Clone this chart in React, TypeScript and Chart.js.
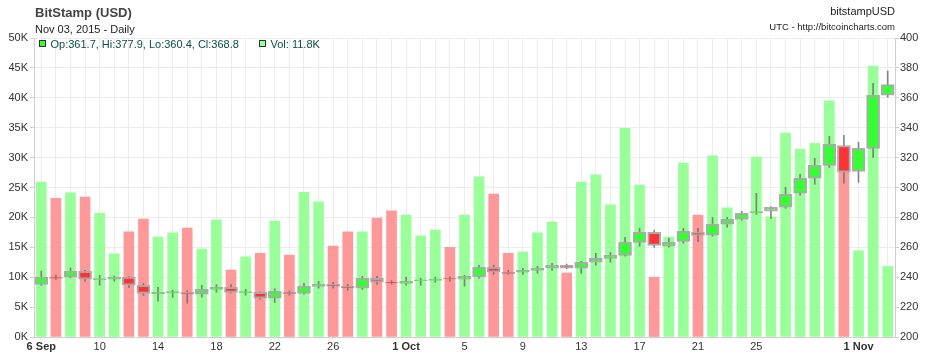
import React, { useEffect, useRef } from 'react';
import { Chart, registerables } from 'chart.js';

Chart.register(...registerables);

const FONT = '"Liberation Sans", Arial, Helvetica, sans-serif';

const dates = [
  '2015-09-06', '2015-09-07', '2015-09-08', '2015-09-09', '2015-09-10', '2015-09-11', '2015-09-12',
  '2015-09-13', '2015-09-14', '2015-09-15', '2015-09-16', '2015-09-17', '2015-09-18', '2015-09-19',
  '2015-09-20', '2015-09-21', '2015-09-22', '2015-09-23', '2015-09-24', '2015-09-25', '2015-09-26',
  '2015-09-27', '2015-09-28', '2015-09-29', '2015-09-30', '2015-10-01', '2015-10-02', '2015-10-03',
  '2015-10-04', '2015-10-05', '2015-10-06', '2015-10-07', '2015-10-08', '2015-10-09', '2015-10-10',
  '2015-10-11', '2015-10-12', '2015-10-13', '2015-10-14', '2015-10-15', '2015-10-16', '2015-10-17',
  '2015-10-18', '2015-10-19', '2015-10-20', '2015-10-21', '2015-10-22', '2015-10-23', '2015-10-24',
  '2015-10-25', '2015-10-26', '2015-10-27', '2015-10-28', '2015-10-29', '2015-10-30', '2015-10-31',
  '2015-11-01', '2015-11-02', '2015-11-03',
];

// Volume in thousands (K)
const volumeK = [
  25.9, 23.2, 24.1, 23.4, 20.7, 13.9, 17.6, 19.7, 16.7, 17.4, 18.2, 14.7, 19.6, 11.2,
  13.4, 14.0, 19.4, 13.7, 24.2, 22.6, 15.2, 17.6, 17.6, 19.9, 21.1, 20.4, 16.9, 17.9,
  15.0, 20.4, 26.8, 23.9, 14.0, 14.2, 17.4, 19.2, 10.7, 25.9, 27.1, 22.1, 34.9, 25.4,
  10.0, 16.7, 29.1, 20.4, 30.3, 21.6, 19.6, 30.1, 20.1, 34.1, 31.4, 32.4, 39.5, 31.0,
  14.4, 45.3, 11.8,
];

const openP = [
  235.2, 240.0, 240.0, 244.0, 238.2, 238.6, 240.0, 234.6, 229.0, 229.5, 229.9, 228.6, 231.9, 233.2,
  229.6, 229.9, 225.9, 229.9, 229.2, 233.9, 235.3, 233.9, 232.6, 239.3, 236.8, 235.9, 237.6, 237.9,
  239.3, 238.6, 240.3, 246.6, 243.2, 243.3, 244.6, 246.0, 248.0, 246.0, 250.0, 252.6, 254.6, 263.3,
  270.0, 260.7, 264.0, 270.0, 268.1, 275.4, 278.7, 283.0, 284.1, 286.8, 296.2, 306.2, 314.8, 328.0,
  310.8, 326.2, 361.7,
];

const highP = [
  244.1, 241.5, 246.2, 244.6, 241.3, 240.8, 240.4, 235.9, 233.2, 231.4, 231.0, 234.6, 235.0, 235.0,
  231.9, 230.2, 232.3, 230.8, 235.9, 237.3, 236.6, 235.3, 240.6, 240.6, 237.7, 240.0, 239.3, 240.0,
  240.3, 241.3, 248.0, 248.0, 244.6, 246.0, 247.3, 249.3, 248.8, 250.6, 256.0, 256.6, 266.7, 272.7,
  271.4, 266.0, 272.7, 272.7, 280.0, 280.0, 284.0, 296.1, 287.2, 300.1, 308.8, 319.5, 334.2, 334.9,
  330.2, 369.7, 377.9,
];

const lowP = [
  234.5, 238.5, 239.6, 237.3, 234.6, 237.3, 233.2, 227.9, 223.9, 226.5, 222.5, 226.6, 230.0, 229.5,
  228.0, 225.2, 223.2, 228.0, 228.6, 232.6, 232.6, 231.2, 231.9, 235.3, 235.3, 234.6, 234.6, 236.6,
  237.3, 234.0, 239.3, 241.9, 241.9, 241.9, 242.6, 244.6, 245.7, 242.6, 248.0, 250.0, 254.0, 260.7,
  260.0, 260.0, 262.7, 264.0, 267.4, 273.4, 278.0, 282.1, 279.4, 286.1, 294.8, 302.1, 313.5, 302.8,
  303.5, 320.2, 360.4,
];

const closeP = [
  240.0, 239.2, 244.0, 238.6, 239.0, 240.0, 234.6, 229.2, 229.9, 230.3, 228.6, 231.9, 233.2, 229.9,
  230.4, 225.9, 230.6, 229.0, 233.9, 235.3, 233.9, 232.6, 239.3, 236.6, 236.0, 237.3, 238.3, 238.8,
  238.6, 240.6, 246.6, 243.3, 242.4, 244.6, 246.0, 248.0, 246.0, 250.0, 252.6, 254.6, 263.3, 270.0,
  261.3, 263.3, 270.7, 268.0, 275.4, 278.7, 282.7, 283.9, 286.8, 295.5, 306.2, 314.8, 328.9, 310.2,
  326.2, 361.7, 368.8,
];

const xTickText: Record<string, string> = {
  '2015-09-06': '6 Sep',
  '2015-09-10': '10',
  '2015-09-14': '14',
  '2015-09-18': '18',
  '2015-09-22': '22',
  '2015-09-26': '26',
  '2015-10-01': '1 Oct',
  '2015-10-05': '5',
  '2015-10-09': '9',
  '2015-10-13': '13',
  '2015-10-17': '17',
  '2015-10-21': '21',
  '2015-10-25': '25',
  '2015-11-01': '1 Nov',
};
const boldTickText = ['6 Sep', '1 Oct', '1 Nov'];

const volTicksK = [0, 5, 10, 15, 20, 25, 30, 35, 40, 45, 50];
const priceTicks = [200, 220, 240, 260, 280, 300, 320, 340, 360, 380, 400];

const GREEN_VOL = '#99ff99';
const RED_VOL = '#ff9999';
const GREEN_BODY = '#33ff33';
const RED_BODY = '#ff3333';

export default function App() {
  const canvasRef = useRef<HTMLCanvasElement | null>(null);

  useEffect(() => {
    const canvas = canvasRef.current;
    if (!canvas) return;
    const up = dates.map((_, i) => closeP[i] >= openP[i]);
    const chart = new Chart(canvas, {
      type: 'bar',
      data: {
        labels: dates,
        datasets: [
          {
            label: 'Body',
            data: dates.map((_, i) => [openP[i], closeP[i]]) as any,
            yAxisID: 'y1',
            backgroundColor: up.map((u) => (u ? GREEN_BODY : RED_BODY)),
            borderColor: 'rgba(168,168,168,0.95)',
            borderWidth: 2,
            borderSkipped: false,
            barThickness: 13,
            grouped: false,
            order: 1,
          } as any,
          {
            label: 'Wick',
            data: dates.map((_, i) => [lowP[i], highP[i]]) as any,
            yAxisID: 'y1',
            backgroundColor: 'rgba(105,105,105,0.8)',
            borderWidth: 0,
            barThickness: 1,
            grouped: false,
            order: 2,
          } as any,
          {
            label: 'Volume',
            data: volumeK.map((v) => v * 1000),
            yAxisID: 'y',
            backgroundColor: up.map((u) => (u ? GREEN_VOL : RED_VOL)),
            borderWidth: 0,
            barThickness: 10,
            grouped: false,
            order: 3,
          } as any,
        ],
      },
      options: {
        responsive: false,
        animation: false,
        devicePixelRatio: 1,
        layout: { padding: { top: 38, left: 0, right: 0, bottom: 0 } },
        plugins: {
          legend: { display: false },
          tooltip: { enabled: false },
        },
        scales: {
          x: {
            type: 'category',
            offset: true,
            grid: { offset: false, color: '#ececec', drawTicks: false },
            border: { display: true, color: '#cfcfcf' },
            ticks: {
              autoSkip: false,
              maxRotation: 0,
              minRotation: 0,
              padding: 3,
              color: '#333',
              callback: (_v: any, i: number) => xTickText[dates[i]] || '',
              font: (ctx: any) => ({
                family: FONT,
                size: 11,
                weight: boldTickText.includes(xTickText[dates[ctx.index]] || '') ? 'bold' : 'normal',
              }),
            },
            afterFit: (scale: any) => {
              scale.height = 20;
            },
          },
          y: {
            position: 'left',
            min: volTicksK[0] * 1000,
            max: volTicksK[volTicksK.length - 1] * 1000,
            afterBuildTicks: (scale: any) => {
              scale.ticks = volTicksK.map((v) => ({ value: v * 1000 }));
            },
            grid: { color: '#ececec', tickLength: 4, tickColor: '#cfcfcf' },
            border: { display: true, color: '#cfcfcf' },
            ticks: {
              padding: 2,
              color: '#333',
              font: { family: FONT, size: 11 },
              callback: (v: any) => `${Number(v) / 1000}K`,
            },
            afterFit: (scale: any) => {
              scale.width = 34;
            },
          },
          y1: {
            position: 'right',
            min: priceTicks[0],
            max: priceTicks[priceTicks.length - 1],
            afterBuildTicks: (scale: any) => {
              scale.ticks = priceTicks.map((v) => ({ value: v }));
            },
            grid: { drawOnChartArea: false, tickLength: 4, tickColor: '#cfcfcf' },
            border: { display: true, color: '#cfcfcf' },
            ticks: {
              padding: 1,
              color: '#333',
              font: { family: FONT, size: 11 },
              callback: (v: any) => `${v}`,
            },
            afterFit: (scale: any) => {
              scale.width = 40;
            },
          },
        },
      } as any,
    });
    return () => chart.destroy();
  }, []);

  const last = dates.length - 1;
  const textBase: React.CSSProperties = {
    position: 'absolute',
    fontFamily: FONT,
    whiteSpace: 'nowrap',
  };

  return (
    <div style={{ position: 'fixed', left: 0, top: 0, width: 935, height: 357, background: '#fff', overflow: 'hidden' }}>
      <canvas ref={canvasRef} width={935} height={357} style={{ position: 'absolute', left: 0, top: 0, width: 935, height: 357 }} />
      <div style={{ ...textBase, left: 35, top: 6, fontSize: 13, lineHeight: '13px', fontWeight: 'bold', color: '#444' }}>
        BitStamp (USD)
      </div>
      <div style={{ ...textBase, left: 35, top: 24, fontSize: 11, lineHeight: '11px', color: '#222' }}>
        Nov 03, 2015 - Daily
      </div>
      <div style={{ ...textBase, right: 40, top: 6, fontSize: 11, lineHeight: '11px', color: '#222', textAlign: 'right' }}>
        bitstampUSD
      </div>
      <div style={{ ...textBase, right: 40, top: 22, fontSize: 9.5, lineHeight: '9.5px', color: '#222', textAlign: 'right' }}>
        UTC - http://bitcoincharts.com
      </div>
      <div style={{ position: 'absolute', left: 39, top: 40, width: 7, height: 7, boxSizing: 'border-box', border: '1px solid #333', background: GREEN_BODY }} />
      <div style={{ ...textBase, left: 50.5, top: 39, fontSize: 11, lineHeight: '11px', color: '#0a4b4b' }}>
        {`Op:${openP[last].toFixed(1)}, Hi:${highP[last].toFixed(1)}, Lo:${lowP[last].toFixed(1)}, Cl:${closeP[last].toFixed(1)}`}
      </div>
      <div style={{ position: 'absolute', left: 259, top: 40, width: 7, height: 7, boxSizing: 'border-box', border: '1px solid #333', background: GREEN_VOL }} />
      <div style={{ ...textBase, left: 270.5, top: 39, fontSize: 11, lineHeight: '11px', color: '#0a4b4b' }}>
        {`Vol: ${volumeK[last].toFixed(1)}K`}
      </div>
    </div>
  );
}
